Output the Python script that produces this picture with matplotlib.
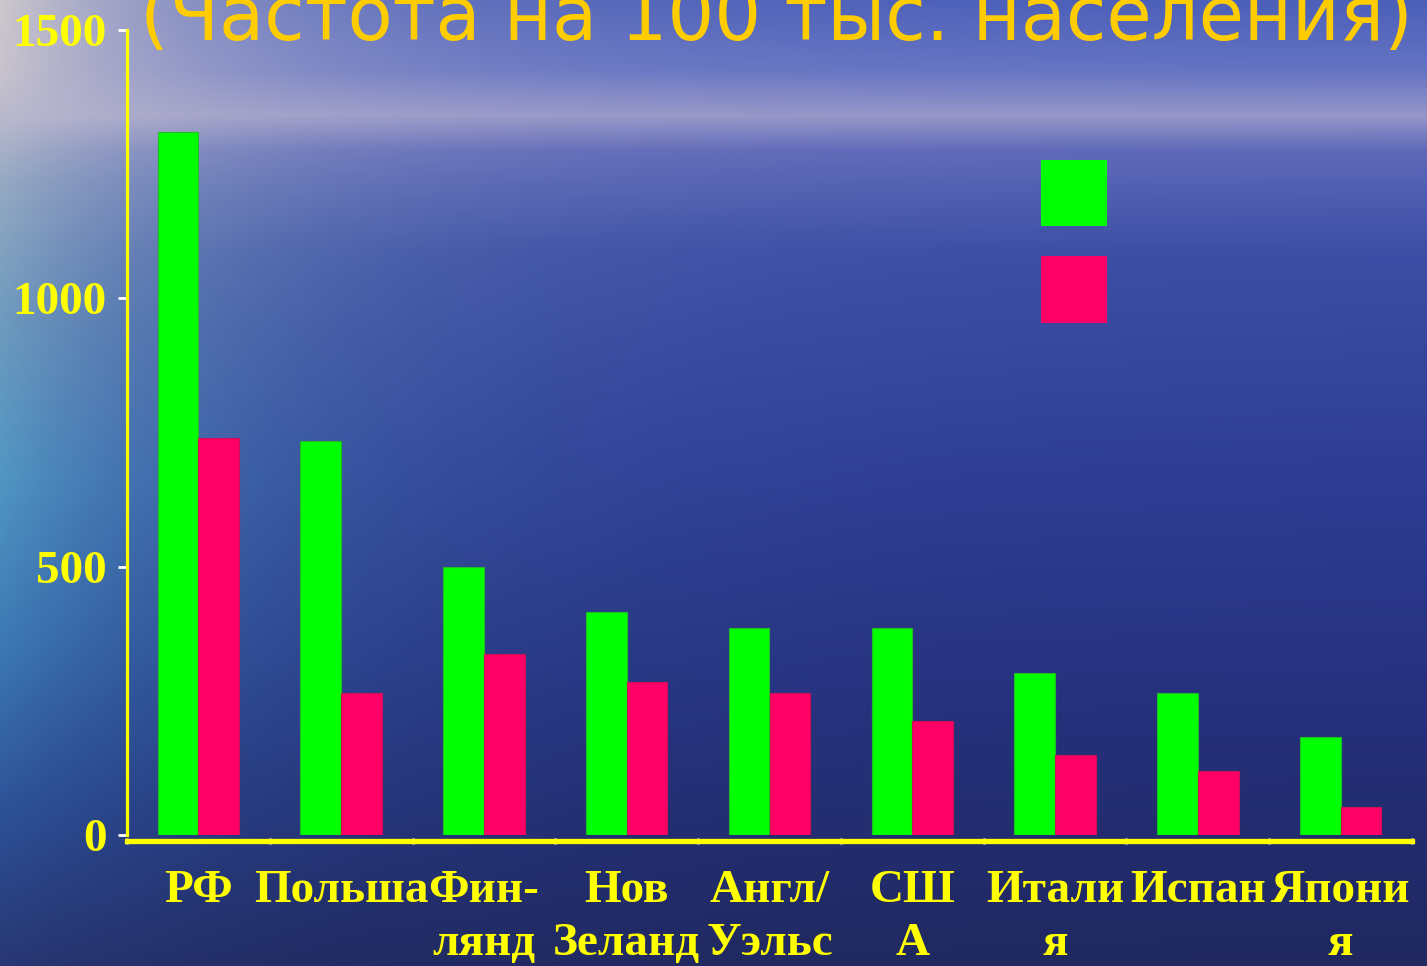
import numpy as np
import matplotlib
matplotlib.use('Agg')
import matplotlib.pyplot as plt
from matplotlib.patches import Patch


countries = ['РФ', 'Польша', 'Фин-\nлянд', 'Нов\nЗеланд', 'Англ/\nУэльс',
             'СШ\nА', 'Итали\nя', 'Испан', 'Япони\nя']
series_green = [1310, 735, 500, 415, 385, 385, 302, 264, 182]
series_red = [740, 264, 337, 285, 264, 212, 149, 119, 52]
y_ticks = [0, 500, 1000, 1500]
title = '(Частота на 100 тыс. населения)'

W, H = 1427, 966
GREEN = '#00ff00'
RED = '#ff0066'
YELLOW = '#ffff00'


def make_background():
    # rough sea / sky picture: left profile blended into a right profile
    ys = np.arange(H)
    left_stops = [(0, (205, 200, 205)), (70, (200, 195, 205)),
                  (120, (185, 185, 205)), (180, (150, 170, 195)),
                  (320, (110, 155, 190)), (480, (80, 150, 195)),
                  (650, (60, 120, 180)), (820, (45, 80, 150)),
                  (966, (40, 55, 115))]
    right_stops = [(0, (75, 95, 185)), (70, (100, 115, 195)),
                   (115, (150, 150, 200)), (150, (95, 105, 185)),
                   (250, (60, 78, 165)), (450, (48, 62, 150)),
                   (700, (38, 48, 125)), (966, (32, 40, 95))]

    def profile(stops):
        py = [s[0] for s in stops]
        out = np.zeros((H, 3))
        for c in range(3):
            out[:, c] = np.interp(ys, py, [s[1][c] for s in stops])
        return out

    lp = profile(left_stops)
    rp = profile(right_stops)
    xs = np.arange(W)
    w = np.exp(-xs / 260.0)[None, :, None]
    img = lp[:, None, :] * w + rp[:, None, :] * (1 - w)
    return np.clip(img / 255.0, 0, 1)


fig = plt.figure(figsize=(W / 100, H / 100), dpi=100)

bg = fig.add_axes([0, 0, 1, 1], zorder=-5)
bg.imshow(make_background(), aspect='auto', interpolation='bilinear')
bg.axis('off')

ax = fig.add_axes([127 / W, 1 - 835 / H, (1412 - 127) / W, (835 - 30) / H])
ax.set_facecolor('none')

x = np.arange(len(countries))
bw = 0.285
ax.bar(x - bw / 2, series_green, bw, color=GREEN, edgecolor='#22bb22',
       linewidth=0.8, zorder=3)
ax.bar(x + bw / 2, series_red, bw, color=RED, edgecolor='#cc1155',
       linewidth=0.8, zorder=3)

ax.set_xlim(-0.5, len(countries) - 0.5)
ax.set_ylim(0, 1500)

for s in ['top', 'right']:
    ax.spines[s].set_visible(False)
ax.spines['left'].set_color(YELLOW)
ax.spines['left'].set_linewidth(2.3)
ax.spines['bottom'].set_color(YELLOW)
ax.spines['bottom'].set_linewidth(3.8)
ax.spines['bottom'].set_position(('outward', 4.5))

serif = dict(family='Liberation Serif', weight='bold')

ax.set_yticks(y_ticks)
ax.set_yticklabels([str(v) for v in y_ticks], color=YELLOW, fontsize=34,
                   **serif)
ax.tick_params(axis='y', colors='white', length=6.5, width=2, pad=8,
               labelcolor=YELLOW)

ax.set_xticks(np.arange(-0.5, len(countries), 1.0))
ax.set_xticklabels([])
ax.tick_params(axis='x', which='major', colors='white', length=5,
               width=1.8, direction='inout')
ax.set_xticks(x, minor=True)
ax.set_xticklabels(countries, minor=True, color=YELLOW, fontsize=34,
                   linespacing=1.33, va='top', **serif)
ax.tick_params(axis='x', which='minor', length=0, pad=21)

fig.text(776 / W, 1 - 40 / H, title, color='#ffcc00', fontsize=53,
         family='DejaVu Sans', ha='center', va='baseline')

handles = [Patch(facecolor=GREEN, edgecolor='none'),
           Patch(facecolor=RED, edgecolor='none')]
ax.legend(handles, ['', ''], loc='upper left',
          bbox_to_anchor=((1040 - 127) / (1412 - 127) - 0.025,
                          1 - (160 - 30) / (835 - 30) + 0.041),
          frameon=False, fontsize=34, handlelength=1.4, handleheight=1.78,
          labelspacing=0.64, handletextpad=0, borderpad=0.2)

fig.savefig('out.png', dpi=100)
